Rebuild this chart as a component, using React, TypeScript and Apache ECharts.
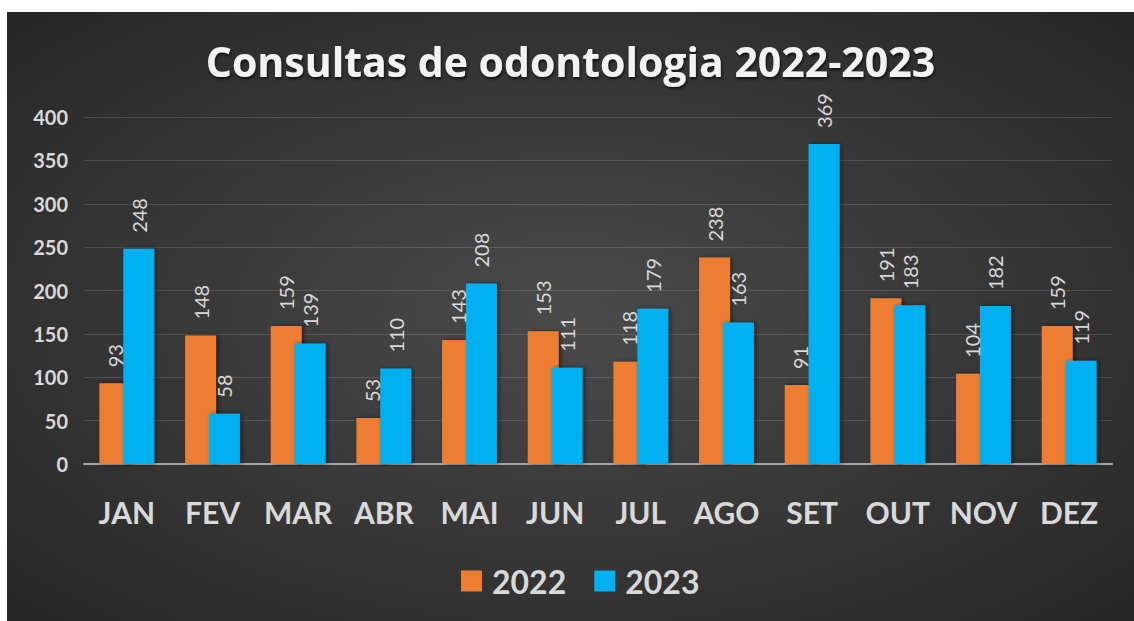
import React, { useEffect, useRef } from "react";
import * as echarts from "echarts";

const months = ["JAN", "FEV", "MAR", "ABR", "MAI", "JUN", "JUL", "AGO", "SET", "OUT", "NOV", "DEZ"];
const values2022 = [93, 148, 159, 53, 143, 153, 118, 238, 91, 191, 104, 159];
const values2023 = [248, 58, 139, 110, 208, 111, 179, 163, 369, 183, 182, 119];
const seriesNames = ["2022", "2023"];
const titleText = "Consultas de odontologia 2022-2023";

const FONT = "Lato, 'Open Sans', sans-serif";
const TXT = "#d9d9d9";

export default function App() {
  const ref = useRef<HTMLDivElement>(null);
  useEffect(() => {
    if (!ref.current) return;
    const chart = echarts.init(ref.current, undefined, { renderer: "svg" });
    const label = {
      show: true,
      position: "top",
      distance: 16,
      rotate: 90,
      align: "left",
      verticalAlign: "middle",
      color: TXT,
      fontFamily: FONT,
      fontSize: 20,
    };
    const barCommon = {
      type: "bar",
      barWidth: 31,
      barGap: "-23%",
      label,
    };
    chart.setOption({
      animation: false,
      title: {
        text: titleText,
        left: "center",
        top: 23,
        textStyle: {
          color: "#f2f2f2",
          fontFamily: "'Open Sans', Lato, sans-serif",
          fontWeight: "bold",
          fontSize: 41,
          textShadowColor: "rgba(0,0,0,0.7)",
          textShadowBlur: 3,
          textShadowOffsetX: 1,
          textShadowOffsetY: 2,
        },
      },
      legend: {
        data: seriesNames,
        left: 449,
        top: 548,
        icon: "rect",
        itemWidth: 21,
        itemHeight: 21,
        itemGap: 28,
        textStyle: {
          color: TXT,
          fontFamily: FONT,
          fontWeight: "bold",
          fontSize: 32,
          padding: [0, 0, 0, 5],
        },
      },
      grid: { left: 77, right: 22, top: 105, bottom: 157, containLabel: false },
      xAxis: {
        type: "category",
        data: months,
        axisLine: { show: true, lineStyle: { color: "#a6a6a6", width: 2 } },
        axisTick: { show: false },
        axisLabel: {
          interval: 0,
          color: TXT,
          fontFamily: FONT,
          fontWeight: "bold",
          fontSize: 30,
          margin: 33,
        },
      },
      yAxis: {
        type: "value",
        min: 0,
        max: 400,
        interval: 50,
        axisLine: { show: false },
        axisTick: { show: false },
        splitLine: { lineStyle: { color: "rgba(255,255,255,0.13)", width: 1 } },
        axisLabel: {
          color: TXT,
          fontFamily: FONT,
          fontWeight: "bold",
          fontSize: 20,
          margin: 16,
        },
      },
      series: [
        {
          ...barCommon,
          name: seriesNames[0],
          data: values2022,
          itemStyle: {
            color: "#ED7D31",
            shadowColor: "rgba(0,0,0,0.5)",
            shadowBlur: 4,
            shadowOffsetX: 2,
          },
        },
        {
          ...barCommon,
          name: seriesNames[1],
          data: values2023,
          itemStyle: {
            color: "#00B0F0",
            shadowColor: "rgba(0,0,0,0.5)",
            shadowBlur: 4,
            shadowOffsetX: 2,
          },
        },
      ],
    });
    return () => chart.dispose();
  }, []);
  return (
    <div
      style={{
        position: "absolute",
        left: 7,
        top: 12,
        width: 1127,
        height: 609,
        background: "radial-gradient(ellipse at 50% 50%, #4b4b4b 0%, #3a3a3a 45%, #262626 100%)",
      }}
    >
      <div ref={ref} style={{ width: 1127, height: 609 }} />
    </div>
  );
}
